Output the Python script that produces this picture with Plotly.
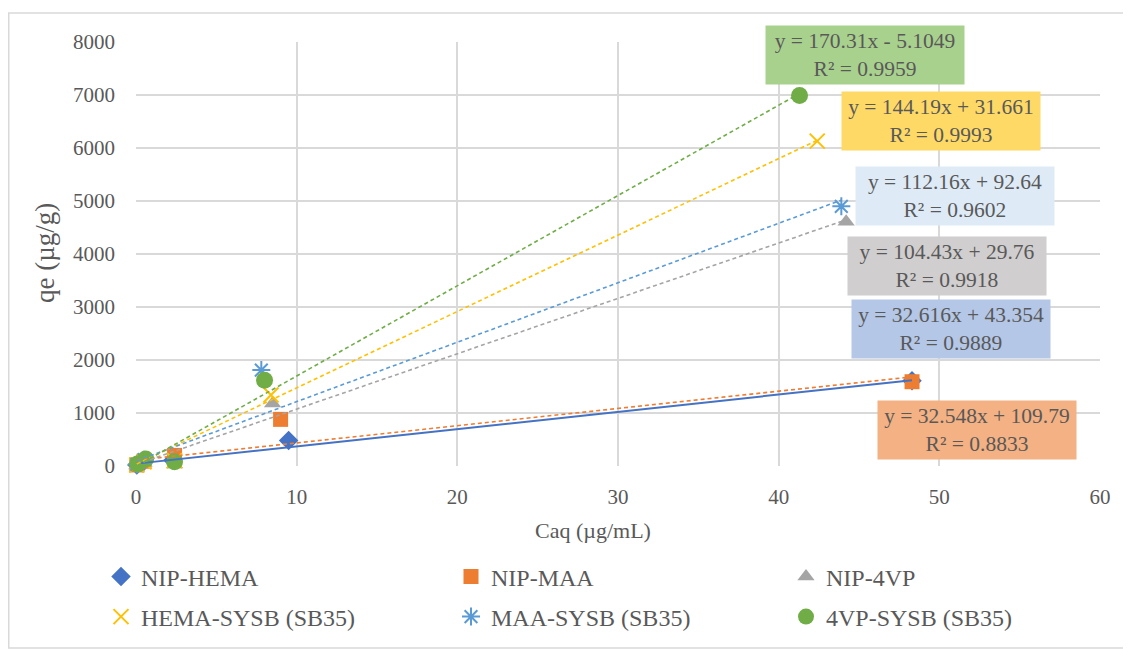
import plotly.graph_objects as go

# ---------------- data ----------------
series_names = ["NIP-HEMA", "NIP-MAA", "NIP-4VP",
                "HEMA-SYSB (SB35)", "MAA-SYSB (SB35)", "4VP-SYSB (SB35)"]

x_nip_hema = [0.05, 0.4, 2.3, 9.5, 48.3]
y_nip_hema = [20, 60, 110, 480, 1610]

x_nip_maa = [0.05, 0.5, 2.4, 9.0, 48.3]
y_nip_maa = [20, 90, 200, 880, 1590]

x_nip_4vp = [0.05, 0.5, 2.4, 8.5, 44.2]
y_nip_4vp = [10, 60, 30, 1180, 4610]

x_hema_sysb = [0.05, 0.5, 2.4, 8.4, 42.4]
y_hema_sysb = [20, 80, 100, 1340, 6130]

x_maa_sysb = [0.05, 0.5, 2.4, 7.8, 43.9]
y_maa_sysb = [30, 120, -10, 1810, 4900]

x_4vp_sysb = [0.1, 0.6, 2.4, 8.0, 41.3]
y_4vp_sysb = [40, 130, 80, 1620, 6990]

# trendline coefficients shown on the chart
slopes = [32.616, 32.548, 104.43, 144.19, 112.16, 170.31]
intercepts = [43.354, 109.79, 29.76, 31.661, 92.64, -5.1049]
eq_labels = ["y = 32.616x + 43.354<br>R² = 0.9889",
             "y = 32.548x + 109.79<br>R² = 0.8833",
             "y = 104.43x + 29.76<br>R² = 0.9918",
             "y = 144.19x + 31.661<br>R² = 0.9993",
             "y = 112.16x + 92.64<br>R² = 0.9602",
             "y = 170.31x - 5.1049<br>R² = 0.9959"]

x_title = "Caq (µg/mL)"
y_title = "qe (µg/g)"

xs = [x_nip_hema, x_nip_maa, x_nip_4vp, x_hema_sysb, x_maa_sysb, x_4vp_sysb]
ys = [y_nip_hema, y_nip_maa, y_nip_4vp, y_hema_sysb, y_maa_sysb, y_4vp_sysb]

# ---------------- styles ----------------
colors = ["#4472C4", "#ED7D31", "#A5A5A5", "#FFC000", "#5B9BD5", "#70AD47"]
symbols = ["diamond", "square", "triangle-up", "x-thin-open", "asterisk-open", "circle"]
msizes = [15, 15, 15, 15, 15, 17]
dashes = ["solid", "4px,3px", "4px,3px", "4px,3px", "4px,3px", "4px,3px"]
label_bg = ["#B4C7E7", "#F4B183", "#D0CECE", "#FFD966", "#DEEBF7", "#A9D18E"]
label_pos = [(50.72, 2585), (52.34, 679), (50.48, 3774), (50.1, 6509), (50.97, 5094), (45.37, 7755)]

FONT = "Liberation Serif, Times New Roman, serif"
TXT = "#595959"
W, H = 1131, 649
# plot area in figure pixels (page has an 8px body margin)
L, R, T, B = 128, 39, 34, 191
PW, PH = W - L - R, H - T - B

# legend cell positions (figure pixels): left x, centre y
leg_x = [93, 443, 778, 93, 443, 778]
leg_y = [569, 569, 569, 609, 609, 609]
leg_ids = ["legend", "legend2", "legend3", "legend4", "legend5", "legend6"]

fig = go.Figure()

for i in range(6):
    open_sym = symbols[i].endswith("open")
    fig.add_trace(go.Scatter(
        x=xs[i], y=ys[i], mode="markers", name=series_names[i],
        legend=leg_ids[i], cliponaxis=False,
        marker=dict(symbol=symbols[i], size=msizes[i], color=colors[i],
                    line=dict(color=colors[i], width=2 if open_sym else 0)),
    ))

for i in range(6):
    x0, x1 = min(xs[i]), max(xs[i])
    fig.add_trace(go.Scatter(
        x=[x0, x1], y=[slopes[i] * x0 + intercepts[i], slopes[i] * x1 + intercepts[i]],
        mode="lines", showlegend=False, hoverinfo="skip", cliponaxis=False,
        line=dict(color=colors[i], width=1.6 if i else 2, dash=dashes[i]),
    ))

for i in range(6):
    fig.add_annotation(
        x=label_pos[i][0], y=label_pos[i][1], xref="x", yref="y",
        text=eq_labels[i], showarrow=False, align="center",
        font=dict(family=FONT, size=21.5, color=TXT),
        bgcolor=label_bg[i], width=190, height=50, borderpad=4,
    )

# axis titles
fig.add_annotation(x=(585 - L) / PW, y=(H - B - 522) / PH, xref="paper", yref="paper",
                   text=x_title, showarrow=False, xanchor="center", yanchor="middle",
                   font=dict(family=FONT, size=22, color=TXT))
fig.add_annotation(x=(37 - L) / PW, y=(H - B - 245) / PH, xref="paper", yref="paper",
                   text=y_title, showarrow=False, textangle=-90, xanchor="center", yanchor="middle",
                   font=dict(family=FONT, size=27, color=TXT))

# outer chart border
fig.add_shape(type="rect", xref="paper", yref="paper",
              x0=(0.75 - L) / PW, x1=(1121 - L) / PW,
              y0=(H - B - 640) / PH, y1=(H - B - 5) / PH,
              line=dict(color="#D9D9D9", width=1.5), fillcolor="rgba(0,0,0,0)", layer="below")

axis_common = dict(showgrid=True, gridcolor="#D9D9D9", gridwidth=1.5,
                   zeroline=False, showline=False, ticks="", automargin=False,
                   tickfont=dict(family=FONT, size=21, color=TXT))

legends = {}
for i in range(6):
    legends[leg_ids[i]] = dict(
        orientation="v", xref="container", yref="container",
        x=leg_x[i] / W, y=1 - leg_y[i] / H, xanchor="left", yanchor="middle",
        font=dict(family=FONT, size=24, color=TXT),
        itemwidth=30, bgcolor="rgba(0,0,0,0)")

fig.update_layout(
    width=W, height=H, autosize=False,
    margin=dict(l=L, r=R, t=T, b=B, autoexpand=False),
    paper_bgcolor="white", plot_bgcolor="white",
    xaxis=dict(range=[0, 60], dtick=10, ticklabelstandoff=16, **axis_common),
    yaxis=dict(range=[0, 8000], dtick=1000, ticklabelstandoff=20, **axis_common),
    showlegend=True,
    **legends,
)

fig.write_html("out.html")
